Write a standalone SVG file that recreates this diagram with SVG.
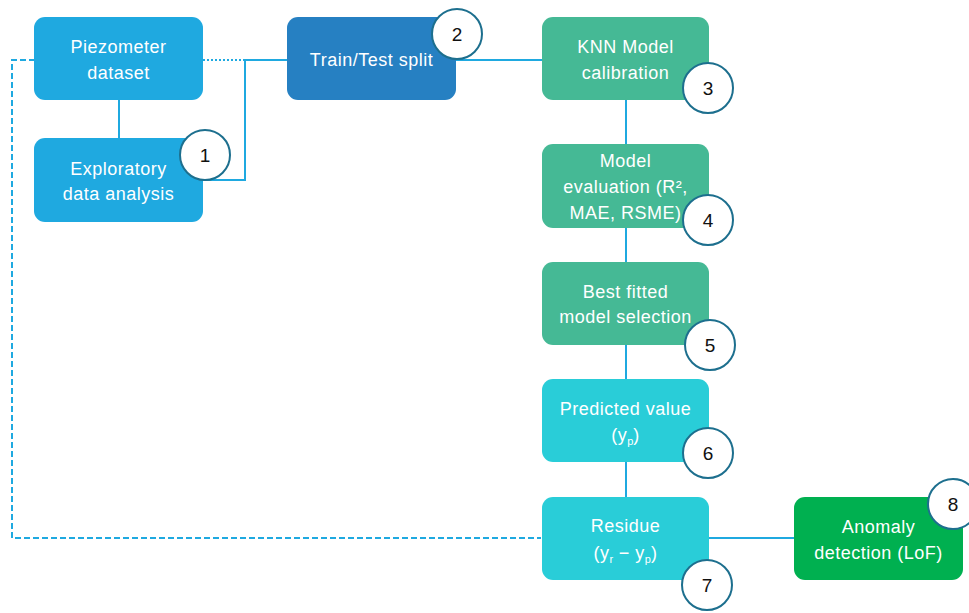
<svg xmlns="http://www.w3.org/2000/svg" width="969" height="613" viewBox="0 0 969 613">
<style>
.box{stroke:none}
.t{font-family:"Liberation Sans",Arial,sans-serif;font-size:18px;letter-spacing:0.5px;fill:#ffffff;text-anchor:middle}
.n{font-family:"Liberation Sans",Arial,sans-serif;font-size:19px;fill:#111111;text-anchor:middle}
.c{fill:#ffffff;stroke:#1d6f8e;stroke-width:2}
.ln{fill:none;stroke:#1fa9e0;stroke-width:2}
.sub{font-size:11px;letter-spacing:0}
</style>
<rect width="969" height="613" fill="#ffffff"/>
<g id="connectors">
<path class="ln" d="M35,60 H12 V538 H541" stroke-dasharray="6,3"/>
<path class="ln" d="M203,60 H245" stroke-dasharray="2,2"/>
<path class="ln" d="M245,60 H287"/>
<path class="ln" d="M203,180 H245 V60"/>
<path class="ln" d="M119,100 V138"/>
<path class="ln" d="M456,60 H542"/>
<path class="ln" d="M626,100 V462"/>
<path class="ln" d="M626,462 V497"/>
<path class="ln" d="M709,538 H794"/>
</g>
<g id="piezometer">
<rect class="box" x="34" y="17" width="169" height="83" rx="11" fill="#1fa9e0"/>
<text class="t" x="118.5" y="53">Piezometer</text>
<text class="t" x="118.5" y="79">dataset</text>
</g>
<g id="exploratory">
<rect class="box" x="34" y="138" width="169" height="84" rx="11" fill="#1fa9e0"/>
<text class="t" x="118.5" y="175">Exploratory</text>
<text class="t" x="118.5" y="200">data analysis</text>
<circle class="c" cx="205" cy="155" r="25"/>
<text class="n" x="205" y="162">1</text>
</g>
<g id="traintest">
<rect class="box" x="287" y="17" width="169" height="83" rx="11" fill="#2680c2"/>
<text class="t" x="371.5" y="66">Train/Test split</text>
<circle class="c" cx="457" cy="34" r="25"/>
<text class="n" x="457" y="41">2</text>
</g>
<g id="knn">
<rect class="box" x="542" y="17" width="167" height="83" rx="11" fill="#45b995"/>
<text class="t" x="625.5" y="53">KNN Model</text>
<text class="t" x="625.5" y="79">calibration</text>
<circle class="c" cx="708" cy="88" r="25"/>
<text class="n" x="708" y="95">3</text>
</g>
<g id="evaluation">
<rect class="box" x="542" y="144" width="167" height="84" rx="11" fill="#45b995"/>
<text class="t" x="625.5" y="167">Model</text>
<text class="t" x="625.5" y="193">evaluation (R²,</text>
<text class="t" x="625.5" y="219">MAE, RSME)</text>
<circle class="c" cx="708" cy="220" r="25"/>
<text class="n" x="708" y="227">4</text>
</g>
<g id="bestfit">
<rect class="box" x="542" y="262" width="167" height="83" rx="11" fill="#45b995"/>
<text class="t" x="625.5" y="298">Best fitted</text>
<text class="t" x="625.5" y="323">model selection</text>
<circle class="c" cx="710" cy="345" r="25"/>
<text class="n" x="710" y="352">5</text>
</g>
<g id="predicted">
<rect class="box" x="542" y="379" width="167" height="83" rx="11" fill="#29cdd8"/>
<text class="t" x="625.5" y="415">Predicted value</text>
<text class="t" x="625.5" y="441">(y<tspan class="sub" dy="4">p</tspan><tspan dy="-4">)</tspan></text>
<circle class="c" cx="708" cy="453" r="25"/>
<text class="n" x="708" y="460">6</text>
</g>
<g id="residue">
<rect class="box" x="542" y="497" width="167" height="83" rx="11" fill="#29cdd8"/>
<text class="t" x="625.5" y="532">Residue</text>
<text class="t" x="625.5" y="559">(y<tspan class="sub" dy="4">r</tspan><tspan dy="-4"> − y</tspan><tspan class="sub" dy="4">p</tspan><tspan dy="-4">)</tspan></text>
<circle class="c" cx="707" cy="585" r="25"/>
<text class="n" x="707" y="592">7</text>
</g>
<g id="anomaly">
<rect class="box" x="794" y="497" width="169" height="83" rx="11" fill="#00b050"/>
<text class="t" x="878.5" y="533">Anomaly</text>
<text class="t" x="878.5" y="559">detection (LoF)</text>
<circle class="c" cx="953" cy="504" r="25"/>
<text class="n" x="953" y="511">8</text>
</g>
</svg>
